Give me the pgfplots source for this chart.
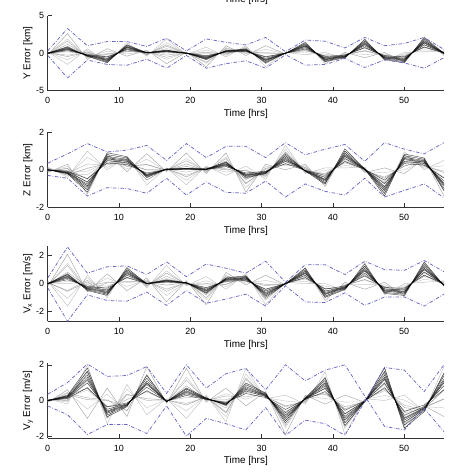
\documentclass[border=0pt]{standalone}
\usepackage{pgfplots}
\pgfplotsset{compat=1.18}
\usepackage{pgfplotstable}
\usepackage{fontspec}
\setmainfont{Liberation Sans}
\definecolor{envblue}{RGB}{104,104,196}

% Y error [km]
\pgfplotstableread{
t d1 d2 d3 d4 d5 d6 d7 g1 g2 g3 g4 g5 g6 g7 e1 e2
0.00 0 0 0 0 0 0 0 -0.2 -0.13 -0.06 0.01 0.08 0.14 0.2 0.3 -0.3
2.78 0.33 0.45 0.54 0.6 0.66 0.75 0.84 2.6 1.88 1.17 0.45 -0.27 -0.89 -1.5 3.3 -3.3
5.56 -0.17 -0.23 -0.27 -0.3 -0.33 -0.38 -0.42 -0.8 -0.56 -0.31 -0.07 0.18 0.39 0.6 1.0 -0.9
8.34 -0.5 -0.68 -0.81 -0.9 -0.99 -1.13 -1.26 0.6 0.27 -0.07 -0.4 -0.73 -1.02 -1.3 1.55 -1.5
11.12 0.44 0.6 0.72 0.8 0.88 1.0 1.12 -0.4 -0.09 0.23 0.55 0.86 1.13 1.4 1.55 -1.6
13.90 0.03 0.04 0.05 0.05 0.06 0.06 0.07 0.4 0.26 0.12 -0.02 -0.16 -0.28 -0.4 0.9 -0.8
16.68 0.17 0.23 0.27 0.3 0.33 0.38 0.42 -1.4 -0.82 -0.25 0.33 0.91 1.41 1.9 2.0 -2.0
19.46 0 0 0 0 0 0 0 0.15 0.1 0.05 -0.01 -0.06 -0.11 -0.15 0.3 -0.3
22.24 -0.33 -0.45 -0.54 -0.6 -0.66 -0.75 -0.84 -1.8 -1.35 -0.89 -0.44 0.02 0.41 0.8 1.9 -2.0
25.02 0.14 0.19 0.23 0.25 0.28 0.31 0.35 1.0 0.74 0.48 0.21 -0.05 -0.28 -0.5 1.45 -1.4
27.80 0.22 0.3 0.36 0.4 0.44 0.5 0.56 -0.3 -0.07 0.16 0.38 0.61 0.81 1.0 1.1 -1.0
30.58 -0.5 -0.68 -0.81 -0.9 -0.99 -1.13 -1.26 1.0 0.51 0.02 -0.47 -0.96 -1.38 -1.8 2.1 -2.0
33.36 0 0 0 0 0 0 0 -0.1 -0.07 -0.03 0.01 0.04 0.07 0.1 0.2 -0.2
36.14 0.55 0.75 0.9 1.0 1.1 1.25 1.4 1.5 1.2 0.91 0.61 0.31 0.06 -0.2 1.75 -1.6
38.92 -0.44 -0.6 -0.72 -0.8 -0.88 -1.0 -1.12 -1.4 -1.14 -0.88 -0.61 -0.35 -0.13 0.1 1.6 -1.5
41.70 -0.25 -0.34 -0.41 -0.45 -0.5 -0.56 -0.63 0.1 -0.04 -0.18 -0.32 -0.46 -0.58 -0.7 0.7 -0.7
44.48 0.72 0.98 1.17 1.3 1.43 1.63 1.82 -0.6 -0.16 0.28 0.71 1.15 1.53 1.9 2.1 -1.9
47.26 -0.33 -0.45 -0.54 -0.6 -0.66 -0.75 -0.84 0.1 -0.09 -0.29 -0.48 -0.67 -0.84 -1.0 1.0 -0.9
50.04 -0.5 -0.68 -0.81 -0.9 -0.99 -1.13 -1.26 -1.2 -0.97 -0.75 -0.52 -0.29 -0.1 0.1 1.3 -1.3
52.82 0.83 1.13 1.35 1.5 1.65 1.88 2.1 2.0 1.69 1.37 1.06 0.74 0.47 0.2 2.1 -2.0
55.60 0 0 0 0 0 0 0 -0.3 -0.2 -0.09 0.02 0.12 0.21 0.3 0.5 -0.6
}\tabY
\pgfplotstableread{
t h1 h2 h3 h4
0.00 -0.1 -0.03 0.04 0.1
2.78 1.6 0.89 0.17 -0.45
5.56 -0.55 -0.31 -0.06 0.15
8.34 -0.15 -0.49 -0.82 -1.1
11.12 0.2 0.52 0.83 1.1
13.90 0.23 0.09 -0.06 -0.18
16.68 -0.55 0.03 0.61 1.1
19.46 0.08 0.03 -0.03 -0.08
22.24 -1.2 -0.75 -0.29 0.1
25.02 0.63 0.37 0.1 -0.13
27.80 0.05 0.28 0.51 0.7
30.58 0.05 -0.44 -0.93 -1.35
33.36 -0.05 -0.02 0.02 0.05
36.14 1.25 0.96 0.66 0.4
38.92 -1.1 -0.84 -0.58 -0.35
41.70 -0.18 -0.32 -0.46 -0.58
44.48 0.35 0.79 1.23 1.6
47.26 -0.25 -0.45 -0.64 -0.8
50.04 -1.05 -0.83 -0.6 -0.4
52.82 1.75 1.44 1.12 0.85
55.60 -0.15 -0.05 0.06 0.15
}\tabYh

% Z error [km]
\pgfplotstableread{
t d1 d2 d3 d4 d5 d6 d7 g1 g2 g3 g4 g5 g6 g7 e1 e2
0.00 0 0 0 0 0 0 0 -0.15 -0.1 -0.05 0.01 0.06 0.11 0.15 0.35 -0.3
2.78 -0.08 -0.11 -0.14 -0.15 -0.17 -0.19 -0.21 0.3 0.18 0.06 -0.07 -0.19 -0.3 -0.4 0.85 -0.45
5.56 -0.47 -0.64 -0.77 -0.85 -0.94 -1.06 -1.19 -1.3 -0.9 -0.5 -0.09 0.31 0.66 1.0 1.4 -1.4
8.34 0.36 0.49 0.59 0.65 0.72 0.81 0.91 0.86 0.71 0.56 0.41 0.26 0.13 0.0 0.95 -0.95
11.12 0.28 0.38 0.45 0.5 0.55 0.63 0.7 -0.1 0.04 0.18 0.32 0.46 0.58 0.7 1.05 -1.0
13.90 -0.17 -0.23 -0.27 -0.3 -0.33 -0.38 -0.42 0.86 0.57 0.28 -0.01 -0.3 -0.55 -0.8 1.3 -1.25
16.68 0.02 0.02 0.03 0.03 0.03 0.04 0.04 -0.1 -0.07 -0.03 0.01 0.04 0.07 0.1 0.5 -0.45
19.46 0.03 0.04 0.05 0.05 0.06 0.06 0.07 0.9 0.6 0.31 0.01 -0.29 -0.55 -0.8 1.4 -1.35
22.24 0.02 0.02 0.03 0.03 0.03 0.04 0.04 -0.2 -0.13 -0.06 0.01 0.08 0.14 0.2 0.65 -0.65
25.02 0.17 0.23 0.27 0.3 0.33 0.38 0.42 0.9 0.69 0.48 0.27 0.06 -0.12 -0.3 1.25 -1.2
27.80 -0.17 -0.23 -0.27 -0.3 -0.33 -0.38 -0.42 -1.2 -0.96 -0.71 -0.47 -0.22 -0.01 0.2 1.25 -1.25
30.58 -0.08 -0.11 -0.14 -0.15 -0.17 -0.19 -0.21 0.3 0.16 0.02 -0.12 -0.26 -0.38 -0.5 0.65 -0.6
33.36 0.33 0.45 0.54 0.6 0.66 0.75 0.84 0.0 0.23 0.46 0.68 0.91 1.11 1.3 1.45 -1.45
36.14 -0.03 -0.04 -0.05 -0.05 -0.06 -0.06 -0.07 0.3 0.21 0.13 0.04 -0.05 -0.13 -0.2 0.8 -0.75
38.92 -0.3 -0.41 -0.5 -0.55 -0.61 -0.69 -0.77 -0.9 -0.73 -0.55 -0.38 -0.2 -0.05 0.1 1.1 -1.15
41.70 0.44 0.6 0.72 0.8 0.88 1.0 1.12 1.0 0.84 0.69 0.53 0.37 0.24 0.1 1.35 -1.35
44.48 0.02 0.02 0.03 0.03 0.03 0.04 0.04 -0.15 -0.1 -0.05 0.01 0.06 0.11 0.15 0.45 -0.45
47.26 -0.55 -0.75 -0.9 -1.0 -1.1 -1.25 -1.4 0.1 -0.15 -0.39 -0.64 -0.88 -1.09 -1.3 1.45 -1.45
50.04 0.33 0.45 0.54 0.6 0.66 0.75 0.84 -0.2 0.0 0.21 0.41 0.61 0.79 0.96 1.1 -1.1
52.82 0.25 0.34 0.41 0.45 0.5 0.56 0.63 0.6 0.5 0.39 0.29 0.18 0.09 0.0 0.85 -0.75
55.60 -0.44 -0.6 -0.72 -0.8 -0.88 -1.0 -1.12 -1.4 -1.07 -0.74 -0.4 -0.07 0.22 0.5 1.45 -1.5
}\tabZ
\pgfplotstableread{
t h1 h2 h3 h4
0.00 -0.08 -0.03 0.03 0.08
2.78 0.08 -0.05 -0.17 -0.28
5.56 -1.08 -0.68 -0.27 0.08
8.34 0.76 0.61 0.46 0.33
11.12 0.2 0.34 0.48 0.6
13.90 0.28 -0.01 -0.3 -0.55
16.68 -0.04 0.0 0.04 0.07
19.46 0.48 0.18 -0.12 -0.38
22.24 -0.09 -0.02 0.06 0.12
25.02 0.6 0.39 0.18 0.0
27.80 -0.75 -0.51 -0.26 -0.05
30.58 0.08 -0.07 -0.21 -0.33
33.36 0.3 0.53 0.76 0.95
36.14 0.13 0.04 -0.05 -0.13
38.92 -0.73 -0.55 -0.38 -0.23
41.70 0.9 0.75 0.59 0.45
44.48 -0.06 -0.01 0.05 0.09
47.26 -0.45 -0.7 -0.94 -1.15
50.04 0.2 0.41 0.61 0.78
52.82 0.53 0.42 0.32 0.23
55.60 -1.1 -0.77 -0.44 -0.15
}\tabZh

% Vx error [m/s]
\pgfplotstableread{
t d1 d2 d3 d4 d5 d6 d7 g1 g2 g3 g4 g5 g6 g7 e1 e2
0.00 0 0 0 0 0 0 0 -0.2 -0.13 -0.06 0.01 0.08 0.14 0.2 0.4 -0.3
2.78 0.28 0.38 0.45 0.5 0.55 0.63 0.7 2.1 1.45 0.81 0.16 -0.49 -1.05 -1.6 2.62 -2.68
5.56 -0.19 -0.26 -0.32 -0.35 -0.39 -0.44 -0.49 -0.6 -0.39 -0.18 0.03 0.24 0.42 0.6 0.75 -0.8
8.34 -0.33 -0.45 -0.54 -0.6 -0.66 -0.75 -0.84 0.7 0.4 0.11 -0.19 -0.49 -0.75 -1.0 1.2 -1.2
11.12 0.44 0.6 0.72 0.8 0.88 1.0 1.12 -0.5 -0.2 0.1 0.39 0.69 0.95 1.2 1.27 -1.25
13.90 0 0 0 0 0 0 0 0.4 0.28 0.16 0.03 -0.09 -0.2 -0.3 0.65 -0.6
16.68 0.11 0.15 0.18 0.2 0.22 0.25 0.28 -1.3 -0.85 -0.39 0.07 0.52 0.91 1.3 1.55 -1.55
19.46 0.03 0.04 0.05 0.05 0.06 0.06 0.07 0.21 0.15 0.08 0.02 -0.04 -0.1 -0.15 0.5 -0.5
22.24 -0.28 -0.38 -0.45 -0.5 -0.55 -0.63 -0.7 -1.5 -1.15 -0.8 -0.45 -0.1 0.2 0.5 1.4 -1.4
25.02 0.17 0.23 0.27 0.3 0.33 0.38 0.42 0.8 0.59 0.38 0.17 -0.04 -0.22 -0.4 1.1 -1.1
27.80 0.22 0.3 0.36 0.4 0.44 0.5 0.56 -0.1 0.04 0.18 0.32 0.46 0.58 0.7 0.75 -0.75
30.58 -0.39 -0.53 -0.63 -0.7 -0.77 -0.88 -0.98 0.6 0.23 -0.14 -0.5 -0.87 -1.19 -1.5 1.6 -1.6
33.36 0 0 0 0 0 0 0 -0.1 -0.07 -0.03 0.01 0.04 0.07 0.1 0.1 -0.15
36.14 0.44 0.6 0.72 0.8 0.88 1.0 1.12 1.1 0.91 0.72 0.52 0.33 0.17 0.0 1.35 -1.3
38.92 -0.39 -0.53 -0.63 -0.7 -0.77 -0.88 -0.98 -1.2 -0.99 -0.78 -0.57 -0.36 -0.18 0.0 1.35 -1.35
41.70 -0.17 -0.23 -0.27 -0.3 -0.33 -0.38 -0.42 0.1 -0.01 -0.11 -0.22 -0.32 -0.41 -0.5 0.65 -0.65
44.48 0.55 0.75 0.9 1.0 1.1 1.25 1.4 -0.4 -0.07 0.27 0.6 0.93 1.22 1.5 1.6 -1.55
47.26 -0.28 -0.38 -0.45 -0.5 -0.55 -0.63 -0.7 0.1 -0.06 -0.22 -0.37 -0.53 -0.67 -0.8 1.0 -0.95
50.04 -0.33 -0.45 -0.54 -0.6 -0.66 -0.75 -0.84 -0.9 -0.74 -0.59 -0.43 -0.27 -0.14 0.0 0.95 -0.95
52.82 0.61 0.83 0.99 1.1 1.21 1.38 1.54 1.5 1.26 1.01 0.77 0.52 0.31 0.1 1.65 -1.6
55.60 -0.06 -0.08 -0.09 -0.1 -0.11 -0.13 -0.14 -0.2 -0.13 -0.06 0.01 0.08 0.14 0.2 0.85 -0.75
}\tabVx
\pgfplotstableread{
t h1 h2 h3 h4
0.00 -0.1 -0.03 0.04 0.1
2.78 1.3 0.66 0.01 -0.55
5.56 -0.48 -0.27 -0.06 0.13
8.34 0.05 -0.25 -0.55 -0.8
11.12 0.15 0.45 0.75 1.0
13.90 0.2 0.08 -0.05 -0.15
16.68 -0.55 -0.1 0.36 0.75
19.46 0.13 0.07 0.01 -0.05
22.24 -1.0 -0.65 -0.3 0.0
25.02 0.55 0.34 0.13 -0.05
27.80 0.15 0.29 0.43 0.55
30.58 -0.05 -0.42 -0.79 -1.1
33.36 -0.05 -0.02 0.02 0.05
36.14 0.95 0.76 0.57 0.4
38.92 -0.95 -0.74 -0.53 -0.35
41.70 -0.1 -0.21 -0.31 -0.4
44.48 0.3 0.64 0.97 1.25
47.26 -0.2 -0.36 -0.52 -0.65
50.04 -0.75 -0.6 -0.44 -0.3
52.82 1.3 1.06 0.81 0.6
55.60 -0.15 -0.08 -0.01 0.05
}\tabVxh

% Vy error [m/s]
\pgfplotstableread{
t d1 d2 d3 d4 d5 d6 d7 g1 g2 g3 g4 g5 g6 g7 e1 e2
0.00 0 0 0 0 0 0 0 -0.1 -0.07 -0.03 0.01 0.04 0.07 0.1 0.35 -0.3
2.78 0.11 0.15 0.18 0.2 0.22 0.25 0.28 0.6 0.46 0.32 0.18 0.04 -0.08 -0.2 1.0 -0.8
5.56 0.72 0.98 1.17 1.3 1.43 1.63 1.82 -1.0 -0.48 0.05 0.58 1.1 1.55 2.0 2.05 -1.9
8.34 -0.36 -0.49 -0.59 -0.65 -0.72 -0.81 -0.91 0.7 0.35 0.0 -0.35 -0.7 -1.0 -1.3 1.35 -1.35
11.12 -0.14 -0.19 -0.23 -0.25 -0.28 -0.31 -0.35 -0.9 -0.59 -0.27 0.05 0.36 0.63 0.9 1.4 -1.35
13.90 0.55 0.75 0.9 1.0 1.1 1.25 1.4 1.9 1.43 0.96 0.48 0.01 -0.4 -0.8 1.9 -1.85
16.68 -0.03 -0.04 -0.05 -0.05 -0.06 -0.06 -0.07 -0.16 -0.11 -0.07 -0.02 0.02 0.06 0.1 0.4 -0.3
19.46 0.28 0.38 0.45 0.5 0.55 0.63 0.7 1.8 1.31 0.82 0.33 -0.16 -0.58 -1.0 2.0 -2.0
22.24 0.06 0.08 0.09 0.1 0.11 0.13 0.14 -0.1 -0.03 0.04 0.11 0.18 0.24 0.3 0.7 -1.0
25.02 -0.11 -0.15 -0.18 -0.2 -0.22 -0.25 -0.28 0.7 0.37 0.04 -0.3 -0.63 -0.92 -1.2 1.5 -1.3
27.80 0.39 0.53 0.63 0.7 0.77 0.88 0.98 -0.3 0.07 0.44 0.8 1.17 1.49 1.8 1.8 -1.65
30.58 0.17 0.23 0.27 0.3 0.33 0.38 0.42 0.5 0.43 0.36 0.29 0.22 0.16 0.1 0.6 -0.4
33.36 -0.5 -0.68 -0.81 -0.9 -0.99 -1.13 -1.26 -1.9 -1.52 -1.13 -0.75 -0.36 -0.03 0.3 2.0 -1.95
36.14 0.06 0.08 0.09 0.1 0.11 0.13 0.14 0.3 0.21 0.13 0.04 -0.05 -0.13 -0.2 1.1 -1.1
38.92 0.5 0.68 0.81 0.9 0.99 1.13 1.26 -0.2 0.12 0.43 0.75 1.06 1.33 1.6 1.7 -1.3
41.70 -0.55 -0.75 -0.9 -1.0 -1.1 -1.25 -1.4 0.3 -0.09 -0.47 -0.86 -1.24 -1.57 -1.9 2.0 -1.95
44.48 -0.03 -0.04 -0.05 -0.05 -0.06 -0.06 -0.07 -0.1 -0.07 -0.03 0.01 0.04 0.07 0.1 0.25 -0.05
47.26 0.72 0.98 1.17 1.3 1.43 1.63 1.82 1.86 1.53 1.21 0.88 0.56 0.28 0.0 -1.45 1.85
50.04 -0.61 -0.83 -0.99 -1.1 -1.21 -1.38 -1.54 -1.6 -1.27 -0.94 -0.6 -0.27 0.02 0.3 -1.65 1.7
52.82 -0.25 -0.34 -0.41 -0.45 -0.5 -0.56 -0.63 -0.3 -0.35 -0.41 -0.46 -0.51 -0.56 -0.6 -0.44 0.5
55.60 0.61 0.83 0.99 1.1 1.21 1.38 1.54 -0.9 -0.41 0.08 0.57 1.06 1.48 1.9 -1.75 2.0
}\tabVy
\pgfplotstableread{
t h1 h2 h3 h4
0.00 -0.05 -0.02 0.02 0.05
2.78 0.4 0.26 0.12 0.0
5.56 0.15 0.68 1.2 1.65
8.34 0.03 -0.33 -0.68 -0.98
11.12 -0.58 -0.26 0.06 0.33
13.90 1.45 0.98 0.51 0.1
16.68 -0.11 -0.06 -0.02 0.03
19.46 1.15 0.66 0.17 -0.25
22.24 0.0 0.07 0.14 0.2
25.02 0.25 -0.08 -0.42 -0.7
27.80 0.2 0.57 0.94 1.25
30.58 0.4 0.33 0.26 0.2
33.36 -1.4 -1.02 -0.63 -0.3
36.14 0.2 0.12 0.03 -0.05
38.92 0.35 0.67 0.98 1.25
41.70 -0.35 -0.74 -1.12 -1.45
44.48 -0.08 -0.04 0.0 0.03
47.26 1.58 1.26 0.93 0.65
50.04 -1.35 -1.02 -0.69 -0.4
52.82 -0.38 -0.43 -0.48 -0.53
55.60 0.1 0.59 1.08 1.5
}\tabVyh

\pgfplotsset{
  mcstyle/.style={
    scale only axis, width=396.3bp, height=75bp,
    anchor=south west,
    xmin=0, xmax=55.6,
    xtick={0,10,20,30,40,50},
    axis x line*=bottom, axis y line*=left,
    axis line style={-, line width=0.5bp, black!80},
    tick align=inside,
    major tick length=4bp,
    tick style={line width=0.5bp, black!80},
    /pgf/number format/assume math mode=true,
    tick label style={font=\fontsize{9}{10}\selectfont},
    xticklabel style={yshift=-3.5bp},
    label style={font=\fontsize{10}{11}\selectfont},
    xlabel={Time [hrs]},
    xlabel style={at={(axis description cs:0.5,-0.31)}, anchor=center},
    ylabel style={at={(axis description cs:-0.05,0.5)}, anchor=center},
  },
  lt/.style={line width=0.45bp, opacity=0.7},
  dk/.style={line width=0.45bp, black, opacity=0.7},
  env/.style={envblue, line width=0.75bp, dash pattern=on 3.5bp off 1.6bp on 0.7bp off 1.6bp},
}

\newcommand{\mcplots}[2]{%
  \addplot[lt, black!50] table[x=t,y=g1]{#1};
  \addplot[lt, black!30] table[x=t,y=g2]{#1};
  \addplot[lt, black!45] table[x=t,y=g3]{#1};
  \addplot[lt, black!25] table[x=t,y=g4]{#1};
  \addplot[lt, black!40] table[x=t,y=g5]{#1};
  \addplot[lt, black!30] table[x=t,y=g6]{#1};
  \addplot[lt, black!35] table[x=t,y=g7]{#1};
  \addplot[lt, black!45] table[x=t,y=h1]{#2};
  \addplot[lt, black!55] table[x=t,y=h2]{#2};
  \addplot[lt, black!35] table[x=t,y=h3]{#2};
  \addplot[lt, black!50] table[x=t,y=h4]{#2};
  \addplot[dk] table[x=t,y=d1]{#1};
  \addplot[dk] table[x=t,y=d2]{#1};
  \addplot[dk] table[x=t,y=d3]{#1};
  \addplot[dk] table[x=t,y=d4]{#1};
  \addplot[dk] table[x=t,y=d5]{#1};
  \addplot[dk] table[x=t,y=d6]{#1};
  \addplot[dk] table[x=t,y=d7]{#1};
  \addplot[env] table[x=t,y=e1]{#1};
  \addplot[env] table[x=t,y=e2]{#1};
}

\begin{document}
\begin{tikzpicture}
\path[use as bounding box] (0,0) rectangle (474bp,474bp);
\node[font=\fontsize{10}{11}\selectfont, anchor=base] at (246bp,471.8bp) {Time [hrs]};

\begin{axis}[mcstyle, at={(47.7bp,383.3bp)}, ymin=-5, ymax=5, ytick={-5,0,5},
  ylabel={Y Error [km]}]
\mcplots{\tabY}{\tabYh}
\end{axis}

\begin{axis}[mcstyle, at={(47.7bp,266.7bp)}, ymin=-2, ymax=2, ytick={-2,0,2},
  ylabel={Z Error [km]}]
\mcplots{\tabZ}{\tabZh}
\end{axis}

\begin{axis}[mcstyle, at={(47.7bp,152.5bp)}, ymin=-2.7, ymax=2.65, ytick={-2,0,2},
  ylabel={V\textsubscript{x} Error [m/s]}]
\mcplots{\tabVx}{\tabVxh}
\end{axis}

\begin{axis}[mcstyle, at={(47.7bp,36bp)}, ymin=-2.1, ymax=2.1, ytick={-2,0,2},
  ylabel={V\textsubscript{y} Error [m/s]}]
\mcplots{\tabVy}{\tabVyh}
\end{axis}
\end{tikzpicture}
\end{document}
